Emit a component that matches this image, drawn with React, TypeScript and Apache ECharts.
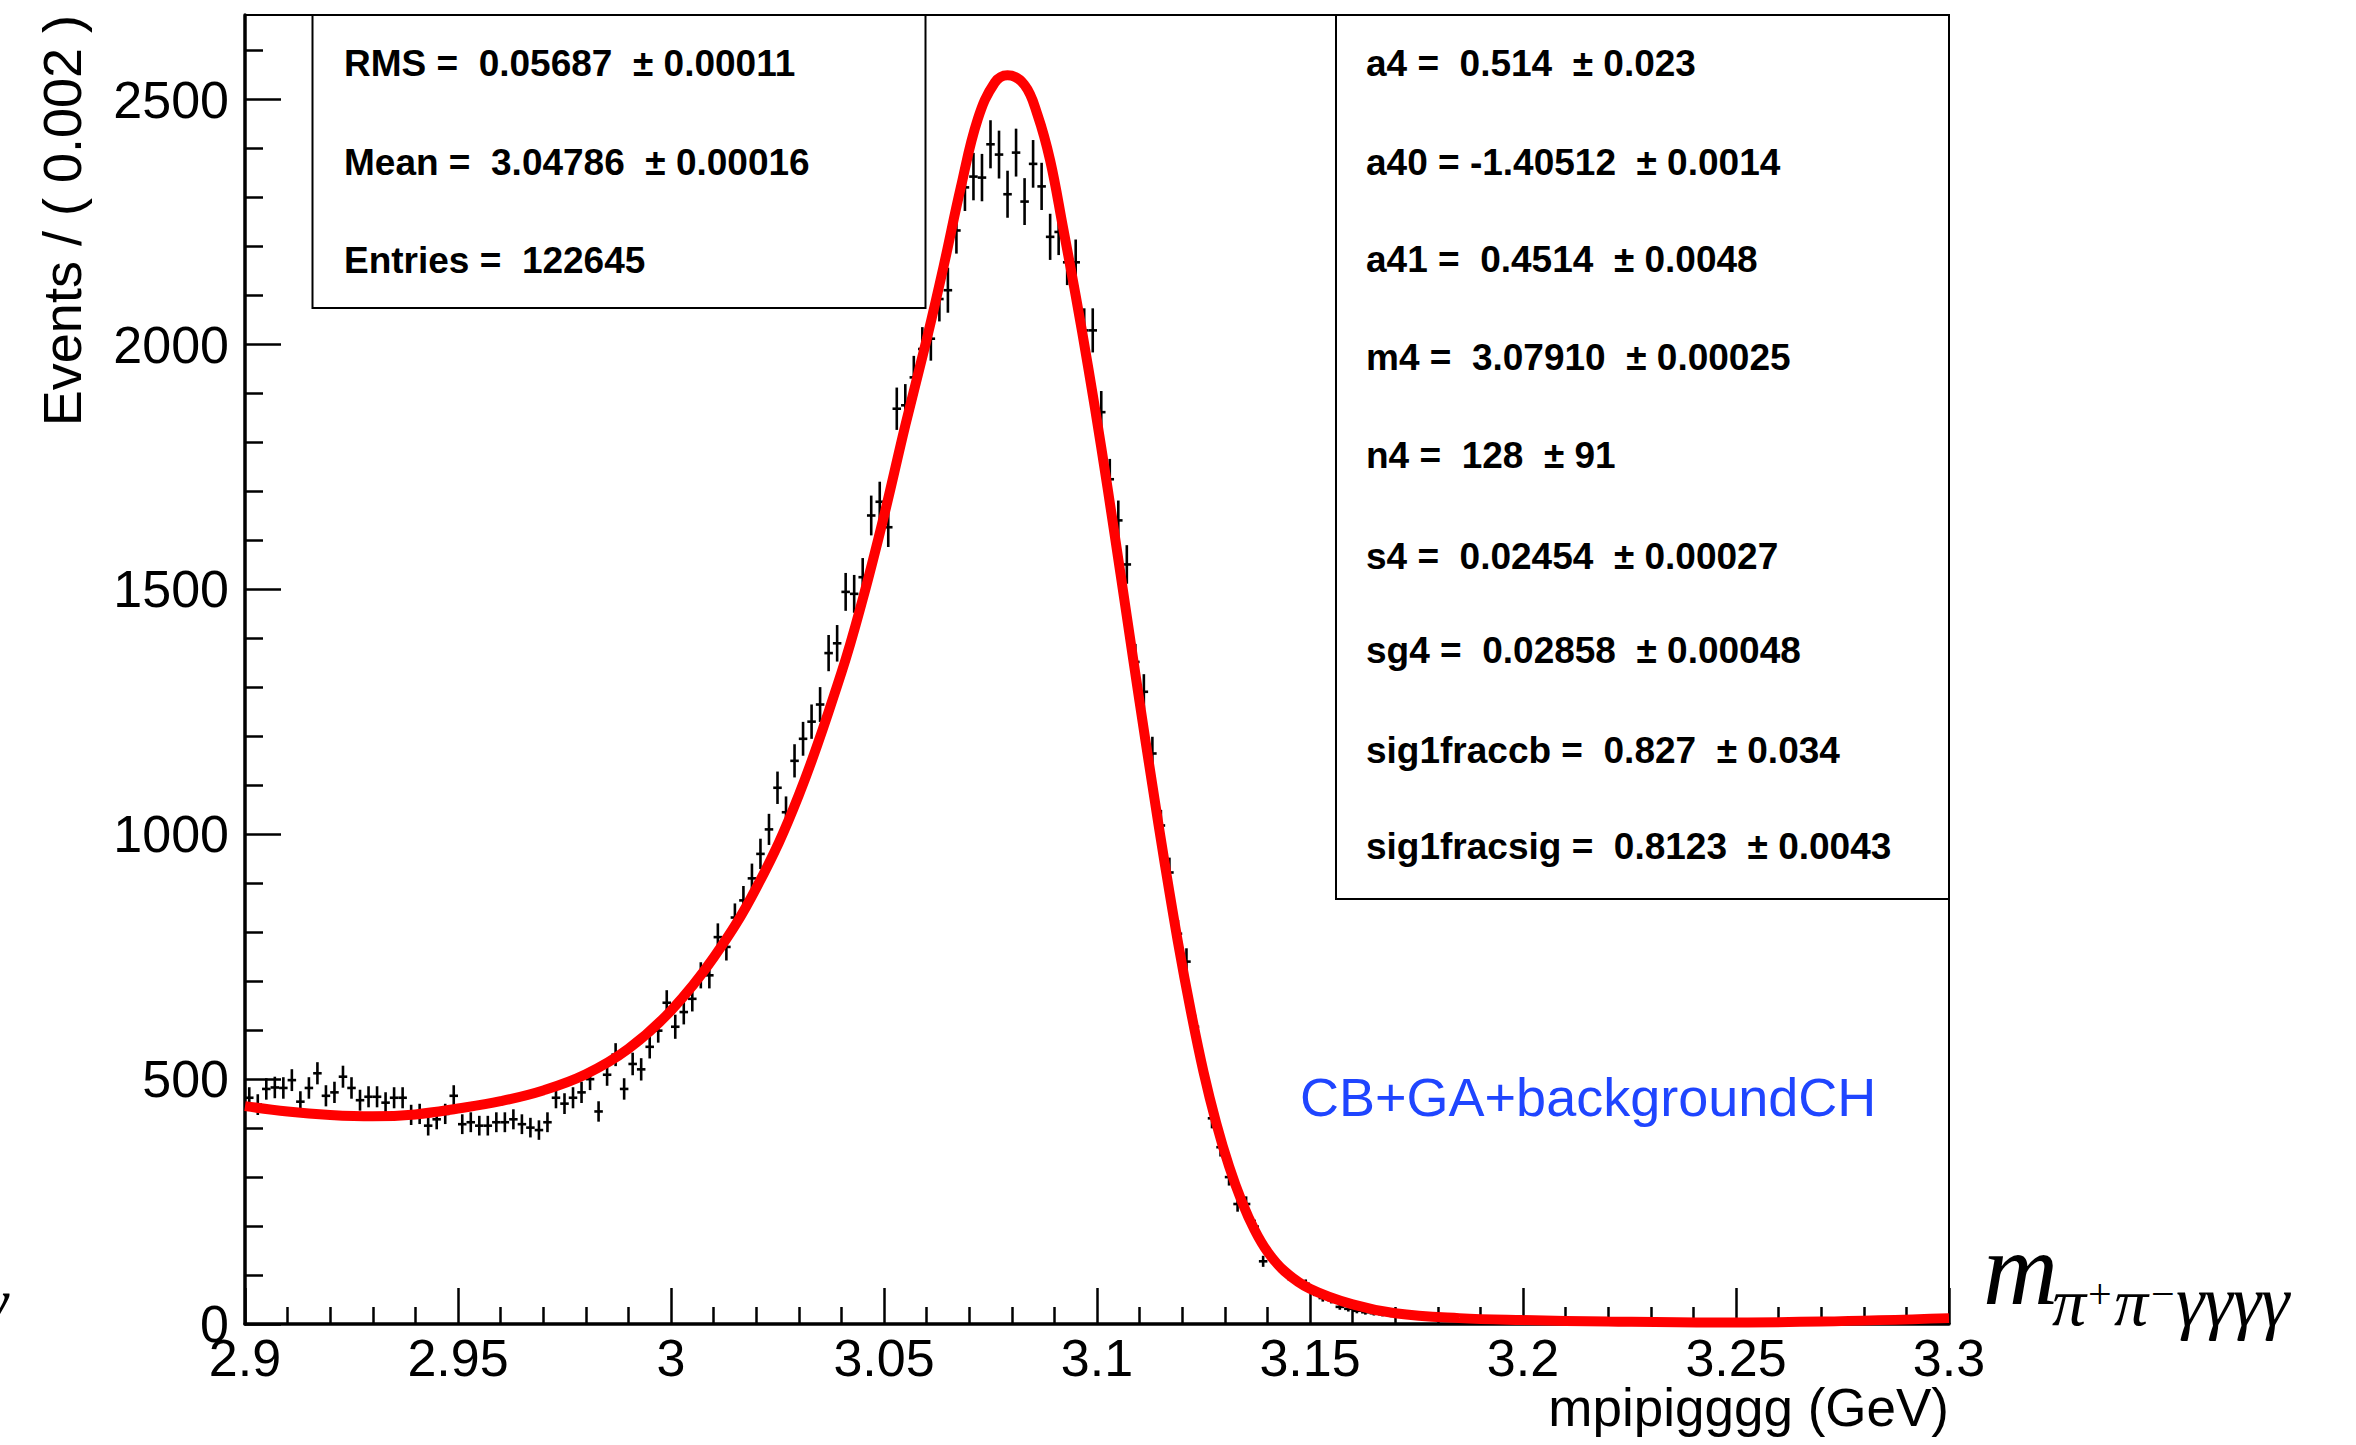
import React, { useEffect, useRef } from "react";
import * as echarts from "echarts";

// Histogram binning (mpipigggg, GeV)
const BIN_START = 2.9;
const BIN_WIDTH = 0.002;

// Events per bin, 200 bins from 2.9 to 3.3
const counts: number[] = [
  462, 448, 480, 483, 482, 498, 454, 482, 512, 466,
  473, 505, 482, 457, 464, 464, 452, 462, 462, 427,
  429, 405, 418, 429, 466, 408, 412, 405, 405, 412,
  412, 418, 408, 401, 396, 412, 462, 450, 462, 473,
  500, 434, 509, 550, 480, 531, 520, 566, 599, 656,
  607, 637, 664, 712, 712, 790, 770, 830, 865, 910,
  960, 1010, 1095, 1045, 1150, 1195, 1230, 1265, 1370, 1390,
  1495, 1491, 1525, 1651, 1679, 1627, 1869, 1876, 1933, 1991,
  2012, 2093, 2111, 2233, 2321, 2343, 2341, 2409, 2388, 2307,
  2392, 2292, 2369, 2323, 2220, 2230, 2168, 2168, 2029, 2029,
  1862, 1725, 1641, 1551, 1352, 1291, 1165, 1018, 922, 797,
  740, 607, 511, 420, 361, 300, 245, 245, 199, 128,
  137, 116, 99, 87, 82, 65, 53, 49, 35, 31,
  27, 24, 22, 20, 18, 17, 14, 13, 12, 10,
  9, 7, 7, 8, 7, 8, 6, 7, 6, 7,
  6, 5, 6, 4, 5, 4, 5, 3, 4, 4,
  3, 4, 3, 3, 2, 3, 3, 2, 3, 2,
  2, 3, 2, 2, 3, 2, 3, 2, 3, 3,
  2, 3, 4, 3, 4, 3, 5, 4, 5, 5,
  4, 6, 5, 7, 6, 8, 7, 8, 9, 10,
];

// Fit curve (CB+GA+backgroundCH)
const fitX: number[] = [
  2.9, 2.91, 2.92, 2.93, 2.94, 2.95, 2.96, 2.97, 2.98, 2.99,
  3.0, 3.01, 3.02, 3.03, 3.04, 3.045, 3.05, 3.055, 3.06, 3.064,
  3.068, 3.072, 3.076, 3.079, 3.083, 3.086, 3.089, 3.092, 3.095, 3.098,
  3.101, 3.104, 3.107, 3.11, 3.113, 3.116, 3.119, 3.122, 3.125, 3.128,
  3.131, 3.134, 3.137, 3.14, 3.144, 3.15, 3.16, 3.17, 3.185, 3.2,
  3.22, 3.245, 3.27, 3.3,
];
const fitY: number[] = [
  445, 434, 427, 424, 428, 440, 455, 477, 510, 562,
  640, 748, 890, 1080, 1330, 1480, 1650, 1835, 2010, 2160,
  2320, 2460, 2535, 2550, 2530, 2470, 2376, 2240, 2100, 1950,
  1790, 1620, 1445, 1270, 1100, 935, 780, 640, 515, 410,
  322, 250, 192, 148, 108, 72, 40, 22, 12, 8,
  5, 3, 5, 12,
];

const yMajorTicks = [0, 500, 1000, 1500, 2000, 2500];
const yMinorTicks = [100, 200, 300, 400, 600, 700, 800, 900, 1100, 1200, 1300, 1400, 1600, 1700, 1800, 1900, 2100, 2200, 2300, 2400, 2600];
const xMajorTicks = [2.9, 2.95, 3.0, 3.05, 3.1, 3.15, 3.2, 3.25, 3.3];
const xMinorTicks = [
  2.91, 2.92, 2.93, 2.94, 2.96, 2.97, 2.98, 2.99, 3.01, 3.02, 3.03, 3.04,
  3.06, 3.07, 3.08, 3.09, 3.11, 3.12, 3.13, 3.14, 3.16, 3.17, 3.18, 3.19,
  3.21, 3.22, 3.23, 3.24, 3.26, 3.27, 3.28, 3.29,
];

const statsLeft = [
  "RMS =  0.05687  \u00b1 0.00011",
  "Mean =  3.04786  \u00b1 0.00016",
  "Entries =  122645",
];
const statsRight = [
  "a4 =  0.514  \u00b1 0.023",
  "a40 = -1.40512  \u00b1 0.0014",
  "a41 =  0.4514  \u00b1 0.0048",
  "m4 =  3.07910  \u00b1 0.00025",
  "n4 =  128  \u00b1 91",
  "s4 =  0.02454  \u00b1 0.00027",
  "sg4 =  0.02858  \u00b1 0.00048",
  "sig1fraccb =  0.827  \u00b1 0.034",
  "sig1fracsig =  0.8123  \u00b1 0.0043",
];

const Y_MAX = 2673;
const SANS = '"Liberation Sans", Arial, Helvetica, sans-serif';
const SERIF = '"Liberation Serif", "Times New Roman", serif';

export default function App() {
  const ref = useRef<HTMLDivElement>(null);

  useEffect(() => {
    if (!ref.current) return;
    const chart = echarts.init(ref.current, null, { renderer: "svg" });

    const histData = counts.map((n, i) => [
      BIN_START + BIN_WIDTH * (i + 0.5),
      n,
      Math.sqrt(n),
    ]);
    const fitData = fitX.map((x, i) => [x, fitY[i]]);

    const axisFont = { fontFamily: SANS, fontSize: 52, color: "#000" };
    const plain = (v: number) => String(Math.round(v * 1000) / 1000);

    const statsLeftY = [63, 162, 260];
    const statsRightY = [63.5, 162, 259, 357.5, 455, 556.5, 650, 750, 846.5];

    const txt = (text: string, x: number, y: number, font: string, align = "left") => ({
      type: "text",
      x,
      y,
      z: 11,
      style: { text, font, fill: "#000", align, verticalAlign: "middle" },
    });

    const graphic: any[] = [
      {
        type: "rect",
        shape: { x: 312.5, y: 15, width: 613, height: 293 },
        style: { fill: "none", stroke: "#000", lineWidth: 2 },
        z: 10,
      },
      {
        type: "rect",
        shape: { x: 1336, y: 15, width: 613, height: 884 },
        style: { fill: "none", stroke: "#000", lineWidth: 2 },
        z: 10,
      },
      ...statsLeft.map((t, i) => txt(t, 344, statsLeftY[i], `bold 37px ${SANS}`)),
      ...statsRight.map((t, i) => txt(t, 1366, statsRightY[i], `bold 37px ${SANS}`)),
      {
        type: "text",
        x: 1300,
        y: 1097,
        z: 11,
        style: { text: "CB+GA+backgroundCH", font: `54px ${SANS}`, fill: "#1f45ff", align: "left", verticalAlign: "middle" },
      },
      {
        type: "text",
        x: 62,
        y: 15,
        rotation: Math.PI / 2,
        z: 11,
        style: { text: "Events / ( 0.002 )", font: `54px ${SANS}`, fill: "#000", align: "right", verticalAlign: "middle" },
      },
      txt("mpipigggg (GeV)", 1949, 1407, `53px ${SANS}`, "right"),
      // m_{pi+ pi- gamma gamma gamma gamma}
      txt("m", 1983, 1268, `italic 104px ${SERIF}`),
      txt("\u03c0", 2052, 1302, `italic 68px ${SERIF}`),
      txt("+", 2088, 1294, `42px ${SERIF}`),
      txt("\u03c0", 2114, 1302, `italic 68px ${SERIF}`),
      txt("\u2212", 2151, 1294, `42px ${SERIF}`),
      txt("\u03b3\u03b3\u03b3\u03b3", 2176, 1302, `italic 72px ${SERIF}`),
      txt("\u03b3", 8, 1302, `italic 68px ${SERIF}`, "right"),
    ];

    const option: any = {
      animation: false,
      backgroundColor: "#fff",
      grid: {
        left: 245,
        top: 15,
        width: 1704,
        height: 1309,
        show: true,
        borderColor: "#000",
        borderWidth: 2,
        backgroundColor: "transparent",
        containLabel: false,
      },
      xAxis: [
        {
          type: "value",
          min: 2.9,
          max: 3.3,
          position: "bottom",
          axisLine: { show: true, onZero: false, lineStyle: { color: "#000", width: 3.5 } },
          axisTick: { show: true, inside: true, length: 36, customValues: xMajorTicks, lineStyle: { color: "#000", width: 2.5 } },
          axisLabel: { ...axisFont, margin: 8, customValues: xMajorTicks, formatter: plain },
          splitLine: { show: false },
        },
        {
          type: "value",
          min: 2.9,
          max: 3.3,
          position: "bottom",
          axisLine: { show: false, onZero: false },
          axisTick: { show: true, inside: true, length: 17, customValues: xMinorTicks, lineStyle: { color: "#000", width: 2.5 } },
          axisLabel: { show: false },
          splitLine: { show: false },
        },
      ],
      yAxis: [
        {
          type: "value",
          min: 0,
          max: Y_MAX,
          position: "left",
          axisLine: { show: true, onZero: false, lineStyle: { color: "#000", width: 3.5 } },
          axisTick: { show: true, inside: true, length: 36, customValues: yMajorTicks, lineStyle: { color: "#000", width: 2.5 } },
          axisLabel: { ...axisFont, margin: 16, customValues: yMajorTicks, formatter: plain },
          splitLine: { show: false },
        },
        {
          type: "value",
          min: 0,
          max: Y_MAX,
          position: "left",
          axisLine: { show: false, onZero: false },
          axisTick: { show: true, inside: true, length: 18, customValues: yMinorTicks, lineStyle: { color: "#000", width: 2.5 } },
          axisLabel: { show: false },
          splitLine: { show: false },
        },
      ],
      series: [
        {
          type: "custom",
          xAxisIndex: 0,
          yAxisIndex: 0,
          data: histData,
          encode: { x: 0, y: 1 },
          z: 3,
          renderItem: (params: any, api: any) => {
            const xc = api.value(0);
            const n = api.value(1);
            const e = api.value(2);
            const top = api.coord([xc, n + e]);
            const bot = api.coord([xc, Math.max(n - e, 0)]);
            const l = api.coord([xc - BIN_WIDTH / 2, n]);
            const r = api.coord([xc + BIN_WIDTH / 2, n]);
            return {
              type: "group",
              children: [
                { type: "line", shape: { x1: top[0], y1: top[1], x2: bot[0], y2: bot[1] }, style: { stroke: "#000", lineWidth: 2.6 } },
                { type: "line", shape: { x1: l[0], y1: l[1], x2: r[0], y2: r[1] }, style: { stroke: "#000", lineWidth: 2.6 } },
              ],
            };
          },
        },
        {
          type: "line",
          xAxisIndex: 0,
          yAxisIndex: 0,
          data: fitData,
          showSymbol: false,
          symbol: "none",
          smooth: 0.4,
          z: 5,
          lineStyle: { color: "#ff0000", width: 10 },
        },
      ],
      graphic,
    };

    chart.setOption(option);
    return () => {
      chart.dispose();
    };
  }, []);

  return (
    <div
      ref={ref}
      style={{ position: "fixed", left: 0, top: 0, width: 2356, height: 1445, background: "#fff" }}
    />
  );
}
